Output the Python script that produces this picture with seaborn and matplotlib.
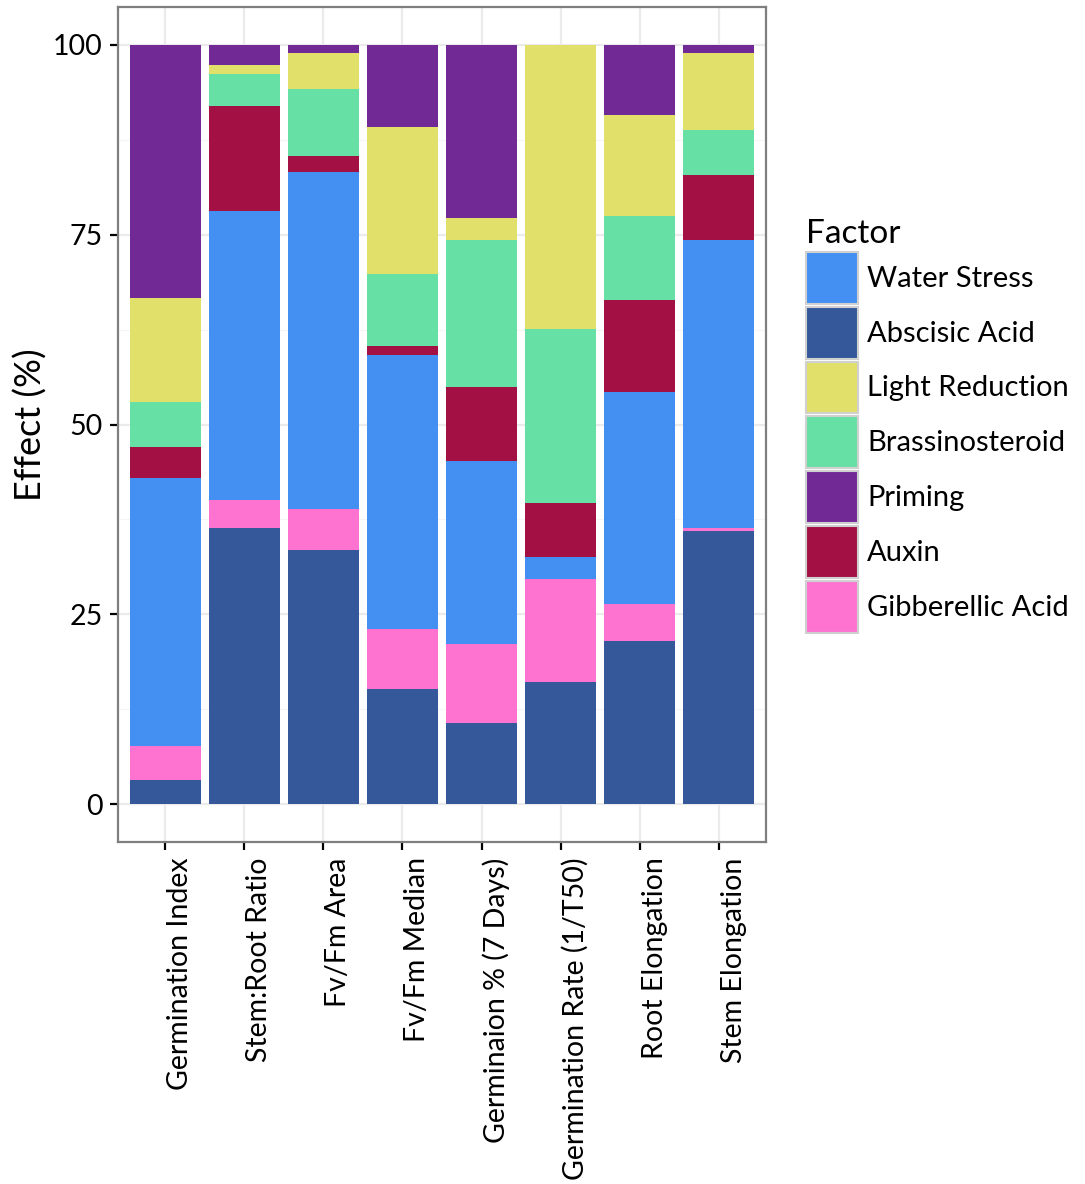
import numpy as np
import pandas as pd
import matplotlib
matplotlib.use("Agg")
import matplotlib.pyplot as plt
from matplotlib.patches import Patch
from matplotlib.ticker import MultipleLocator
from matplotlib.transforms import ScaledTranslation
import seaborn as sns

categories = ["Germination Index", "Stem:Root Ratio", "Fv/Fm Area", "Fv/Fm Median",
              "Germinaion % (7 Days)", "Germination Rate (1/T50)", "Root Elongation",
              "Stem Elongation"]

# stacked from bottom to top
abscisic_acid    = [3.2, 36.4, 33.5, 15.2, 10.7, 16.1, 21.5, 36.0]
gibberellic_acid = [4.4, 3.7, 5.4, 7.9, 10.4, 13.6, 4.8, 0.4]
water_stress     = [35.4, 38.0, 44.3, 36.1, 24.1, 2.9, 28.0, 37.9]
auxin            = [4.1, 13.9, 2.2, 1.2, 9.8, 7.0, 12.1, 8.6]
brassinosteroid  = [5.8, 4.2, 8.8, 9.4, 19.3, 23.0, 11.1, 5.9]
light_reduction  = [13.8, 1.2, 4.8, 19.4, 2.9, 37.4, 13.3, 10.2]
priming          = [33.3, 2.6, 1.0, 10.8, 22.8, 0.0, 9.2, 1.0]

stack_order = ["Abscisic Acid", "Gibberellic Acid", "Water Stress", "Auxin",
               "Brassinosteroid", "Light Reduction", "Priming"]
legend_order = ["Water Stress", "Abscisic Acid", "Light Reduction", "Brassinosteroid",
                "Priming", "Auxin", "Gibberellic Acid"]
series = {
    "Abscisic Acid": abscisic_acid,
    "Gibberellic Acid": gibberellic_acid,
    "Water Stress": water_stress,
    "Auxin": auxin,
    "Brassinosteroid": brassinosteroid,
    "Light Reduction": light_reduction,
    "Priming": priming,
}
palette = {
    "Water Stress": "#4490F2",
    "Abscisic Acid": "#345899",
    "Light Reduction": "#E1E06A",
    "Brassinosteroid": "#67E0A5",
    "Priming": "#712A95",
    "Auxin": "#A31043",
    "Gibberellic Acid": "#FF73D0",
}

rows = []
cum = np.zeros(len(categories))
for f in stack_order:
    cum = cum + np.array(series[f])
    for c, top in zip(categories, cum):
        rows.append({"Measure": c, "Factor": f, "Top": top})
df = pd.DataFrame(rows)

sns.set_theme(style="white")
FONT = ["Lato", "DejaVu Sans"]
plt.rcParams["font.family"] = FONT
plt.rcParams["text.color"] = "black"
plt.rcParams["axes.labelcolor"] = "black"

W, H = 1085, 1184
fig = plt.figure(figsize=(W / 100, H / 100), dpi=100)
ax = fig.add_axes([118 / W, 1 - 842 / H, 648 / W, 835 / H])

draw_order = stack_order[::-1]
sns.barplot(data=df, x="Measure", y="Top", hue="Factor", hue_order=draw_order,
            order=categories, dodge=False, width=0.9, saturation=1,
            palette=palette, errorbar=None, linewidth=0, legend=False, ax=ax)

ax.set_xlim(-0.6, len(categories) - 0.4)
ax.set_ylim(-5, 105)
ax.set_yticks([0, 25, 50, 75, 100])
ax.yaxis.set_minor_locator(MultipleLocator(12.5))
ax.set_axisbelow(True)
ax.grid(which="major", color="#EBEBEB", linewidth=1.6)
ax.grid(which="minor", axis="y", color="#F5F5F5", linewidth=0.8)
for s in ax.spines.values():
    s.set_color("#7F7F7F")
    s.set_linewidth(1.6)

ax.tick_params(axis="both", which="major", length=6, width=1.6, color="black",
               labelsize=20.5, labelcolor="black", pad=5, bottom=True, left=True)
ax.tick_params(axis="y", which="minor", length=0)
ax.set_xticks(range(len(categories)))
ax.set_xticklabels(categories, rotation=90, ha="center", va="top")
shift = ScaledTranslation(15 / 100, 0, fig.dpi_scale_trans)
for lbl in ax.get_xticklabels():
    lbl.set_transform(lbl.get_transform() + shift)
ax.set_xlabel("")
ax.set_ylabel("Effect (%)", fontsize=26, labelpad=4, color="black")

handles = [Patch(facecolor=palette[f], edgecolor="#D0D0D0", linewidth=1.5, label=f)
           for f in legend_order]
leg = ax.legend(handles=handles, title="Factor", loc="upper left",
                bbox_to_anchor=(806 / W, 1 - 219 / H), bbox_transform=fig.transFigure,
                frameon=False, fontsize=21, title_fontsize=24, handlelength=1.78,
                handleheight=2.36, labelspacing=0.1, handletextpad=0.31,
                borderpad=0, borderaxespad=0, labelcolor="black")
leg.get_title().set_color("black")
leg._legend_box.align = "left"

fig.savefig("out.png", dpi=100)
